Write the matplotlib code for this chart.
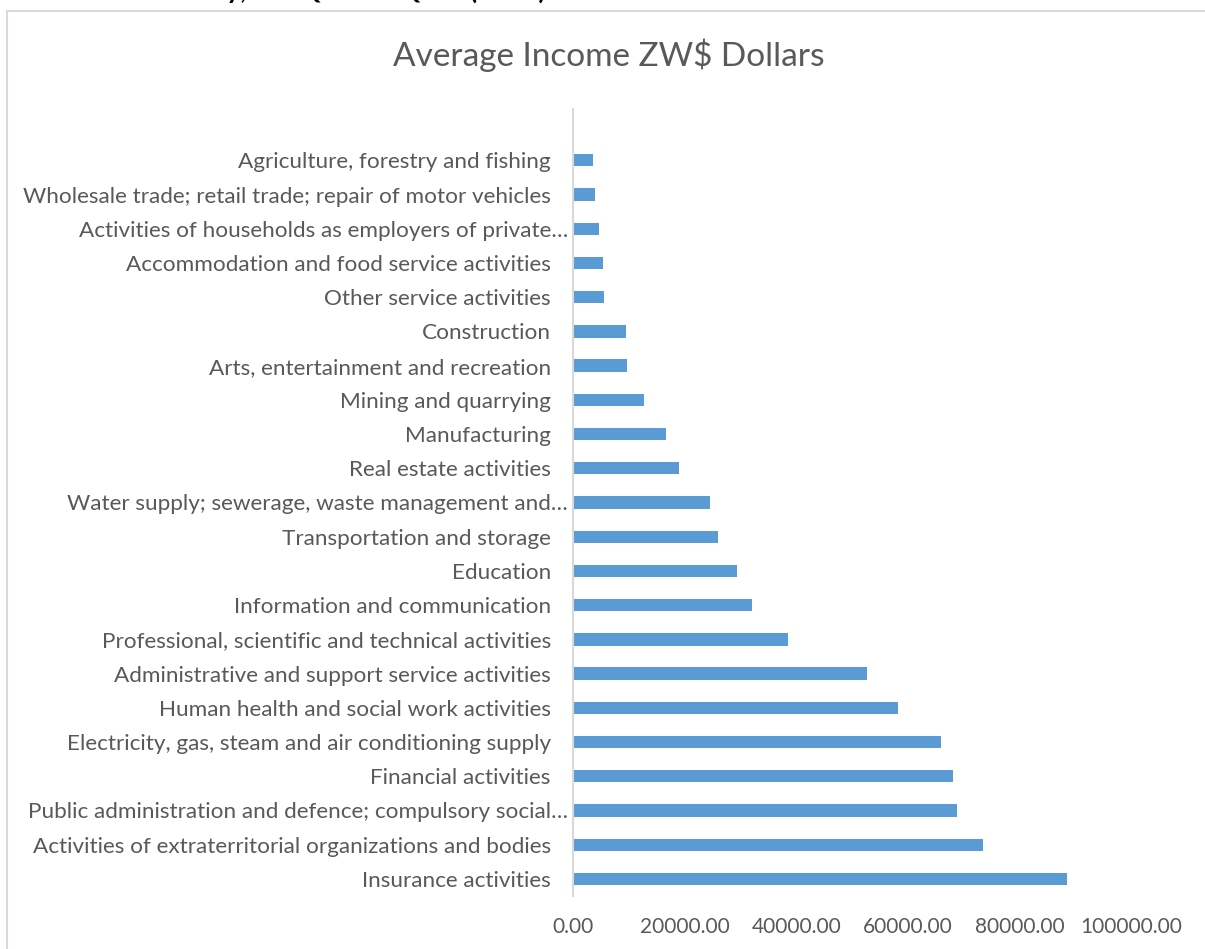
import matplotlib
matplotlib.use("Agg")
import matplotlib.pyplot as plt
from matplotlib.transforms import ScaledTranslation

# Industries ordered bottom to top as drawn
industries = [
    "Insurance activities",
    "Activities of extraterritorial organizations and bodies",
    "Public administration and defence; compulsory social…",
    "Financial activities",
    "Electricity, gas, steam and air conditioning supply",
    "Human health and social work activities",
    "Administrative and support service activities",
    "Professional, scientific and technical activities",
    "Information and communication",
    "Education",
    "Transportation and storage",
    "Water supply; sewerage, waste management and…",
    "Real estate activities",
    "Manufacturing",
    "Mining and quarrying",
    "Arts, entertainment and recreation",
    "Construction",
    "Other service activities",
    "Accommodation and food service activities",
    "Activities of households as employers of private…",
    "Wholesale trade; retail trade; repair of motor vehicles",
    "Agriculture, forestry and fishing",
]
avg_income = [
    88500, 73500, 68800, 68100, 65900, 58300, 52600, 38500, 32000, 29400, 25900,
    24600, 19000, 16700, 12800, 9700, 9500, 5600, 5400, 4600, 4000, 3500,
]
x_ticks = [0, 20000, 40000, 60000, 80000, 100000]

chart_title = "Average Income ZW$ Dollars"
page_heading = "Income and Industry, 3rd Quarter QLFS (2021)"

W, H = 1205, 949
fig = plt.figure(figsize=(W / 100, H / 100), dpi=100)
fig.patch.set_facecolor("white")

font = "Lato"
text_grey = "#595959"
line_grey = "#d9d9d9"

# chart-area frame (only top and left edges fall inside the page)
fig.add_artist(plt.Line2D([7 / W, 1], [1 - 11 / H, 1 - 11 / H], color=line_grey, lw=1.5))
fig.add_artist(plt.Line2D([7 / W, 7 / W], [0, 1 - 11 / H], color=line_grey, lw=1.5))

# heading above the chart, mostly clipped by the page edge
fig.text(0 / W, 1 + 1 / H, page_heading, fontsize=19, fontweight="bold",
         family=font, color="black", ha="left", va="baseline")

left, right = 573 / W, 1131 / W
top, bottom = 1 - 109 / H, 1 - 896 / H
ax = fig.add_axes([left, bottom, right - left, top - bottom])

y = list(range(len(industries)))
ax.barh(y, avg_income, height=0.36, color="#5B9BD5")

ax.set_xlim(0, 100000)
ax.set_ylim(-0.5, len(industries) + 0.5)
ax.set_xticks(x_ticks)
ax.set_xticklabels([f"{v:.2f}" for v in x_ticks], family=font, fontsize=15, color=text_grey)
ax.set_yticks(y)
ax.set_yticklabels(industries, family=font, fontsize=16.2, color=text_grey)
ax.tick_params(axis="both", length=0)
ax.tick_params(axis="x", pad=15)
ax.tick_params(axis="y", pad=16)

# truncated labels hang their ellipsis past the common right edge
for lbl in ax.get_yticklabels():
    if lbl.get_text().endswith("…"):
        lbl.set_transform(lbl.get_transform() + ScaledTranslation(17 / 100, 0, fig.dpi_scale_trans))

for side in ("top", "right", "bottom"):
    ax.spines[side].set_visible(False)
ax.spines["left"].set_color(line_grey)
ax.spines["left"].set_linewidth(1.5)

fig.text(609 / W, 1 - 55 / H, chart_title, fontsize=24, family=font,
         color=text_grey, ha="center", va="center")

fig.savefig("out.png", dpi=100, facecolor="white")
